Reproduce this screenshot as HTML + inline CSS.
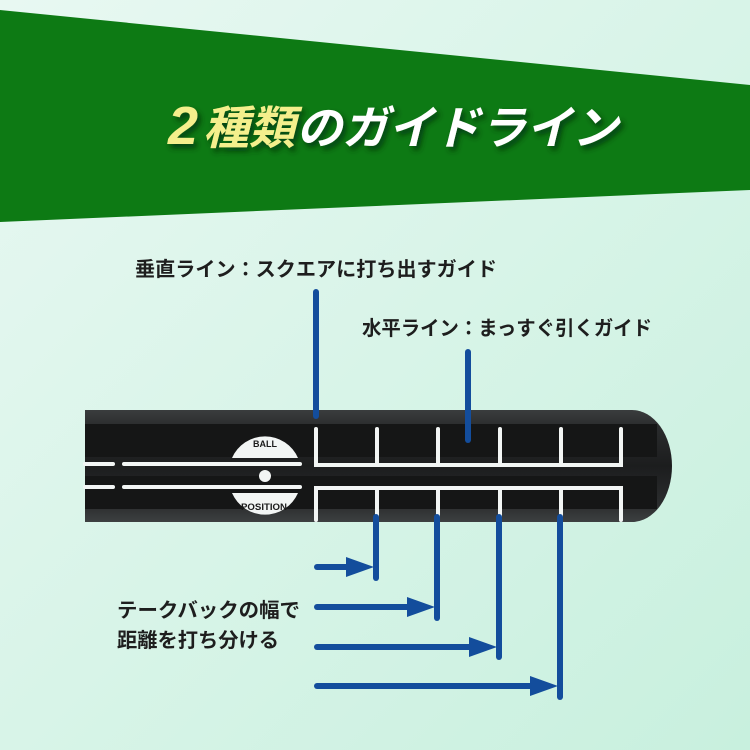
<!DOCTYPE html>
<html><head><meta charset="utf-8"><style>
html,body{margin:0;padding:0}
body{width:750px;height:750px;overflow:hidden;position:relative;background:#d6f3e7;font-family:"Liberation Sans","Noto Sans CJK JP",sans-serif}
svg{position:absolute;left:0;top:0}
</style></head><body>
<svg width="750" height="750" viewBox="0 0 750 750">
<defs>
<filter id="sh" x="-10%" y="-30%" width="120%" height="160%"><feDropShadow dx="3" dy="4" stdDeviation="3" flood-color="#02330a" flood-opacity="0.8"/></filter>
<linearGradient id="bar" x1="0" y1="0" x2="0" y2="1"><stop offset="0" stop-color="#3a3d3e"/><stop offset="0.15" stop-color="#2a2c2d"/><stop offset="0.5" stop-color="#1c1d1e"/><stop offset="0.85" stop-color="#2b2d2e"/><stop offset="1" stop-color="#3d4041"/></linearGradient>
<linearGradient id="bg" x1="0" y1="0" x2="1" y2="1"><stop offset="0" stop-color="#e8f8f2"/><stop offset="1" stop-color="#c8f0de"/></linearGradient>
<clipPath id="bc"><path d="M85,410 H632 A40,56 0 0 1 632,522 H85 Z"/></clipPath>
</defs>
<rect width="750" height="750" fill="url(#bg)"/>
<polygon points="0,10 750,85 750,190 0,222" fill="#0d7a14"/>
<g filter="url(#sh)" font-weight="bold" font-style="italic">
<text x="168" y="144" fill="#f4ef8c" font-size="54">2</text>
<text x="203" y="144" fill="#f4ef8c" font-size="46">種類</text>
<text x="296" y="144" fill="#ffffff" font-size="46">のガイドライン</text>
</g>
<path d="M85,410 H632 A40,56 0 0 1 632,522 H85 Z" fill="url(#bar)"/>
<g clip-path="url(#bc)">
<rect x="85" y="424" width="572" height="33" fill="#151616"/>
<rect x="85" y="476" width="572" height="33" fill="#151616"/>
</g>
<g stroke="#f2f5f4" stroke-width="4" stroke-linecap="round" fill="none">
<line x1="85" y1="464" x2="113" y2="464"/><line x1="124" y1="464" x2="300" y2="464"/>
<line x1="85" y1="487" x2="113" y2="487"/><line x1="124" y1="487" x2="300" y2="487"/>
<path d="M316,429 V465 H621 V429"/>
<line x1="377" y1="429" x2="377" y2="465"/><line x1="438" y1="429" x2="438" y2="465"/><line x1="500" y1="429" x2="500" y2="465"/><line x1="561" y1="429" x2="561" y2="465"/>
<path d="M316,520 V488 H621 V520"/>
<line x1="377" y1="488" x2="377" y2="520"/><line x1="438" y1="488" x2="438" y2="520"/><line x1="500" y1="488" x2="500" y2="520"/><line x1="561" y1="488" x2="561" y2="520"/>
</g>
<path d="M232,458 A36,36 0 0 1 298,458 Z" fill="#f2f5f4"/>
<path d="M232,493 A36,36 0 0 0 298,493 Z" fill="#f2f5f4"/>
<circle cx="265" cy="476" r="6" fill="#f2f5f4"/>
<text x="265" y="447" text-anchor="middle" font-size="9" font-weight="bold" fill="#1a1a1a">BALL</text>
<text x="264" y="510" text-anchor="middle" font-size="9" font-weight="bold" fill="#1a1a1a" textLength="46" lengthAdjust="spacingAndGlyphs">POSITION</text>
<g stroke="#134d9c" stroke-width="6" stroke-linecap="round" fill="none">
<line x1="316" y1="292" x2="316" y2="416"/>
<line x1="468" y1="352" x2="468" y2="440"/>
<line x1="376" y1="517" x2="376" y2="578"/>
<line x1="437" y1="517" x2="437" y2="618"/>
<line x1="499" y1="517" x2="499" y2="657"/>
<line x1="560" y1="517" x2="560" y2="697"/>
<line x1="317" y1="567" x2="350" y2="567"/>
<line x1="317" y1="607" x2="412" y2="607"/>
<line x1="317" y1="647" x2="472" y2="647"/>
<line x1="317" y1="686" x2="535" y2="686"/>
</g>
<g fill="#134d9c">
<polygon points="374,567 346,557 346,577"/>
<polygon points="435,607 407,597 407,617"/>
<polygon points="497,647 469,637 469,657"/>
<polygon points="558,686 530,676 530,696"/>
</g>
<g font-size="20" fill="#1e1e1e" font-weight="bold">
<text x="135" y="276" textLength="362" lengthAdjust="spacingAndGlyphs">垂直ライン：スクエアに打ち出すガイド</text>
<text x="362" y="335" textLength="290" lengthAdjust="spacingAndGlyphs">水平ライン：まっすぐ引くガイド</text>
<text x="117" y="617" textLength="183" lengthAdjust="spacingAndGlyphs">テークバックの幅で</text>
<text x="117" y="647" textLength="162" lengthAdjust="spacingAndGlyphs">距離を打ち分ける</text>
</g>
</svg>
</body></html>
